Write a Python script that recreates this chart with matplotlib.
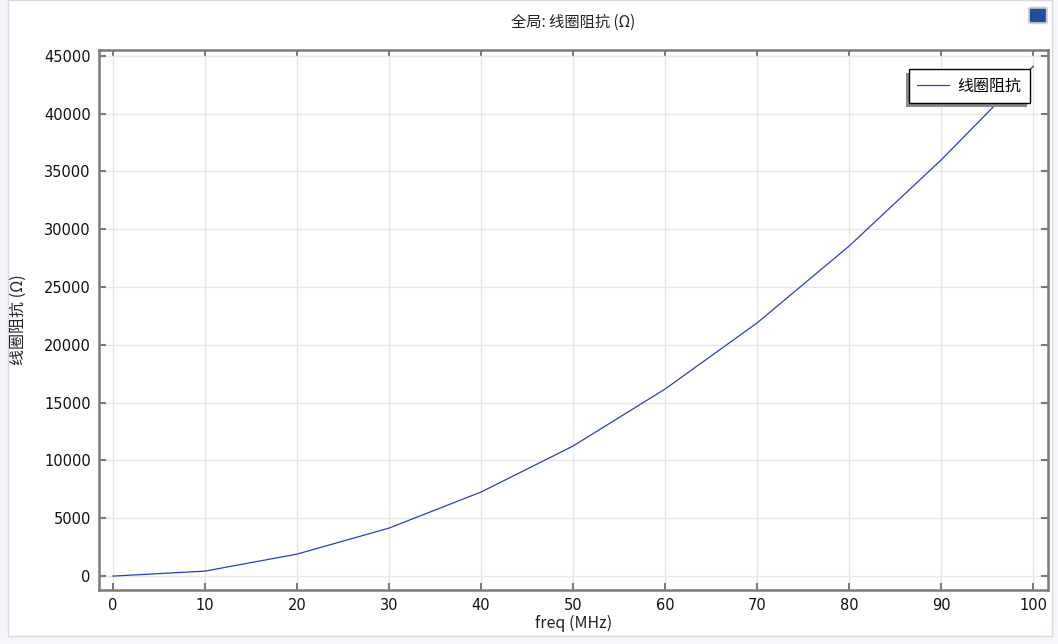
import numpy as np
import matplotlib.pyplot as plt
from matplotlib.patches import Rectangle, FancyBboxPatch

plt.rcParams['font.family'] = ['Noto Sans CJK SC', 'DejaVu Sans']

# 频率 (MHz) 与 线圈阻抗 (Ω)
freq = [0, 10, 20, 30, 40, 50, 60, 70, 80, 90, 100]
impedance = [0, 430, 1900, 4150, 7270, 11250, 16180, 21900, 28550, 36000, 44100]

xticks = [0, 10, 20, 30, 40, 50, 60, 70, 80, 90, 100]
yticks = [0, 5000, 10000, 15000, 20000, 25000, 30000, 35000, 40000, 45000]

fig = plt.figure(figsize=(10.58, 6.44), dpi=100)
fig.patch.set_facecolor('#f4f6fb')
# inner white panel
fig.add_artist(Rectangle((0.008, 0.012), 0.986, 0.988, transform=fig.transFigure,
                         facecolor='white', edgecolor='#d6d9df', lw=1, zorder=-10))
# little window icon, top right
fig.add_artist(FancyBboxPatch((0.9745, 0.966), 0.013, 0.02, transform=fig.transFigure,
                              boxstyle='round,pad=0.002', facecolor='#1f4e9a',
                              edgecolor='#c8ccd4', lw=1.5, zorder=5))

ax = fig.add_axes([0.0936, 0.0839, 0.897, 0.8385])
ax.plot(freq, impedance, color='#2840c0', lw=0.9, label='线圈阻抗')

ax.set_xlim(-1.5, 101.6)
ax.set_ylim(-1200, 45500)
ax.set_xticks(xticks)
ax.set_yticks(yticks)
ax.grid(True, color='#e6e6e6', lw=1)
ax.set_axisbelow(True)
for s in ax.spines.values():
    s.set_color('#7a7a7a')
    s.set_linewidth(1.8)
ax.tick_params(direction='in', top=True, right=True, length=5, width=1.5,
               color='#7a7a7a', labelsize=10.5, labelcolor='#111111', pad=6)
for lab in ax.get_xticklabels() + ax.get_yticklabels():
    lab.set_family('DejaVu Sans')

ax.set_title('全局: 线圈阻抗 (Ω)', fontsize=11, color='#222222', pad=17)
ax.set_xlabel('freq (MHz)', fontsize=11.5, color='#222222', labelpad=1)
ax.set_ylabel('线圈阻抗 (Ω)', fontsize=11.5, color='#222222', labelpad=12)

leg = ax.legend(loc='upper right', bbox_to_anchor=(0.981, 0.965), fontsize=11.5,
                fancybox=False, edgecolor='black', framealpha=1, handlelength=2.0,
                borderpad=0.55, handletextpad=0.5, borderaxespad=0)
leg.get_frame().set_linewidth(1)

# shadow offset to the lower left of the legend box
fig.canvas.draw()
bb = leg.get_window_extent()
ax.add_artist(Rectangle((bb.x0 - 3, bb.y0 - 4), bb.width, bb.height, transform=None,
                        facecolor='#8a8a8a', edgecolor='none', zorder=4.9))

fig.savefig('out.png', dpi=100, facecolor=fig.get_facecolor())
